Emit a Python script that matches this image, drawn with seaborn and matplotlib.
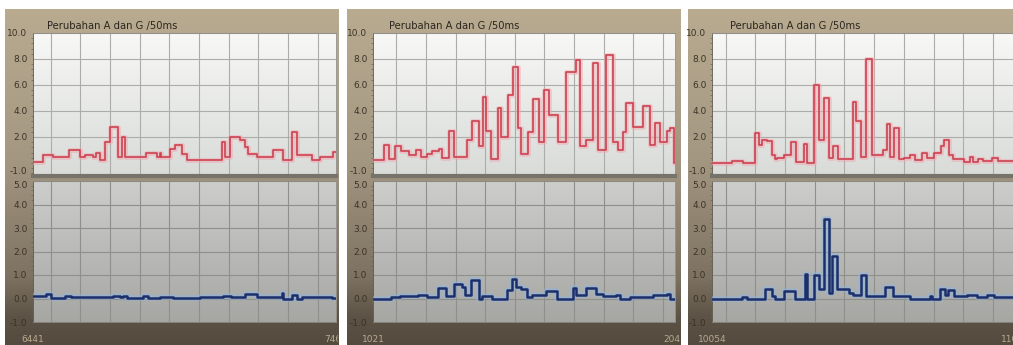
import numpy as np
import matplotlib
matplotlib.use("Agg")
import matplotlib.pyplot as plt
from matplotlib.colors import LinearSegmentedColormap
from matplotlib.ticker import MultipleLocator
import seaborn as sns

sns.set_style("white")
plt.rcParams['font.family'] = ['DejaVu Sans']

title = "Perubahan A dan G /50ms"
span = 1020
x_start = [6441, 1021, 10054]
x_start_labels = ["6441", "1021", "10054"]
x_end_labels = ["7461", "2041", "11074"]

# panel 1 (offsets from start, step values)
p1_top_t = [0, 34, 67, 121, 157, 174, 202, 213, 225, 242, 258, 286, 301, 311, 382, 416, 427, 432,
            461, 477, 500, 517, 635, 646, 663, 696, 713, 725, 753, 809, 843, 871, 888, 938, 966, 1011, 1020]
p1_top_v = [0.05, 0.6, 0.45, 1.0, 0.45, 0.65, 0.5, 0.75, 0.2, 1.6, 2.8, 0.45, 2.0, 0.45, 0.75, 0.5, 0.8, 0.45,
            1.1, 1.4, 0.7, 0.2, 1.6, 0.45, 2.0, 1.75, 1.2, 0.7, 0.45, 1.0, 0.2, 2.4, 0.6, 0.25, 0.45, 0.85, 0.85]
p1_bot_t = [0, 45, 62, 107, 129, 197, 270, 292, 303, 315, 371, 388, 427, 472, 562, 640, 668, 713, 753,
            837, 843, 871, 888, 904, 949, 1005, 1020]
p1_bot_v = [0.12, 0.2, 0.03, 0.12, 0.08, 0.05, 0.12, 0.05, 0.1, 0.02, 0.1, 0.02, 0.07, 0.03, 0.05, 0.1, 0.05, 0.18, 0.06,
            0.25, 0.0, 0.15, 0.0, 0.06, 0.08, 0.03, 0.03]

# panel 2
p2_top_t = [0, 36, 53, 74, 93, 121, 144, 161, 183, 200, 223, 234, 257, 274, 319, 336, 358, 370, 381, 398,
            421, 432, 455, 472, 489, 500, 522, 539, 562, 579, 596, 624, 652, 686, 698, 720, 743, 760, 788,
            809, 828, 845, 856, 879, 913, 935, 952, 969, 992, 1003, 1018, 1020]
p2_top_v = [0.25, 1.35, 0.3, 1.3, 0.9, 0.6, 1.0, 0.5, 0.7, 0.95, 1.1, 0.4, 2.5, 0.5, 1.8, 3.2, 1.3, 5.1, 2.5, 0.3,
            4.2, 2.0, 5.2, 7.4, 2.7, 0.7, 2.4, 4.9, 1.6, 5.6, 3.7, 1.6, 7.0, 7.9, 1.3, 1.8, 7.7, 1.0, 8.3,
            1.6, 1.0, 2.4, 4.6, 2.8, 4.4, 1.4, 3.1, 1.6, 2.5, 2.7, 0.0, 0.0]
p2_bot_t = [0, 40, 62, 91, 153, 181, 221, 246, 272, 300, 312, 332, 357, 368, 402, 453, 468, 482, 499, 521,
            538, 584, 623, 674, 686, 720, 754, 776, 822, 833, 867, 946, 992, 1003, 1020]
p2_bot_v = [0.0, -0.03, 0.05, 0.1, 0.15, 0.05, 0.45, 0.1, 0.6, 0.5, 0.15, 0.8, 0.0, 0.1, 0.0, 0.35, 0.85, 0.5, 0.4, 0.05,
            0.15, 0.3, 0.0, 0.45, 0.15, 0.45, 0.2, 0.1, 0.15, 0.0, 0.05, 0.15, 0.2, 0.0, 0.0]

# panel 3
p3_top_t = [0, 66, 106, 145, 157, 170, 185, 202, 211, 219, 242, 265, 282, 310, 321, 344, 361, 378, 395, 407,
            424, 475, 486, 503, 520, 537, 577, 588, 600, 611, 628, 645, 668, 685, 708, 725, 747, 770, 782,
            799, 810, 850, 867, 878, 895, 912, 941, 963, 1020]
p3_top_v = [0.0, 0.15, 0.0, 2.3, 1.4, 1.8, 1.7, 0.6, 0.3, 0.4, 0.6, 1.6, 0.1, 1.5, 0.0, 6.0, 1.8, 5.0, 0.4, 1.3,
            0.3, 4.7, 3.2, 0.5, 8.0, 0.6, 1.0, 3.0, 0.5, 2.7, 0.3, 0.4, 0.6, 0.2, 0.8, 0.4, 0.8, 1.3, 1.8,
            0.6, 0.3, 0.1, 0.5, 0.1, 0.3, 0.15, 0.35, 0.15, 0.15]
p3_bot_t = [0, 100, 117, 179, 201, 213, 241, 281, 312, 320, 343, 360, 377, 394, 405, 422, 462, 473, 501, 518,
            581, 609, 666, 734, 739, 768, 784, 796, 813, 858, 892, 926, 949, 1020]
p3_bot_v = [0.0, 0.05, 0.0, 0.4, 0.1, 0.0, 0.3, 0.0, 1.05, 0.0, 1.0, 0.4, 3.4, 0.25, 1.8, 0.4, 0.25, 0.15, 1.0, 0.1,
            0.5, 0.1, 0.0, 0.1, 0.0, 0.4, 0.15, 0.35, 0.1, 0.15, 0.05, 0.15, 0.05, 0.05]

panels = [
    (p1_top_t, p1_top_v, p1_bot_t, p1_bot_v),
    (p2_top_t, p2_top_v, p2_bot_t, p2_bot_v),
    (p3_top_t, p3_top_v, p3_bot_t, p3_bot_v),
]

W, H = 1013, 345
fig = plt.figure(figsize=(W / 100, H / 100), dpi=100)
fig.patch.set_facecolor("white")


def rect(l, t, r, b):
    return [l / W, 1 - b / H, (r - l) / W, (b - t) / H]


frame_cmap = LinearSegmentedColormap.from_list(
    "frame", [(0, "#b9ab90"), (0.45, "#a49782"), (0.8, "#7d7261"), (0.92, "#5c5245"), (1, "#544a3e")])
top_cmap = LinearSegmentedColormap.from_list("top", ["#f8f8f6", "#d8dbd8"])
bot_cmap = LinearSegmentedColormap.from_list("bot", ["#cdcecc", "#a6a7a3"])
grad = np.linspace(0, 1, 256).reshape(-1, 1)

frames = [(5, 338), (347, 680), (688, 1013)]
plots = [(33, 336), (373, 675), (712, 1015)]
label_col = "#3a3326"

for i, (tt, tv, bt, bv) in enumerate(panels):
    fl, fr = frames[i]
    pl, pr = plots[i]
    x0 = x_start[i]

    bg = fig.add_axes(rect(fl, 9, fr, 345), zorder=0)
    bg.imshow(grad, aspect="auto", cmap=frame_cmap, extent=[0, 1, 0, 1])
    bg.axis("off")
    fig.text((fl + 42) / W, 1 - 26 / H, title, fontsize=7.2, color="#2b271f", va="center", ha="left", zorder=5)

    ax_t = fig.add_axes(rect(pl, 33, pr, 176), zorder=2)
    ax_b = fig.add_axes(rect(pl, 181, pr, 322), zorder=2)

    for ax, cmap, t, v, ylim, col, glow, lw, gcol in [
        (ax_t, top_cmap, tt, tv, (-1, 10), "#cc4250", "#f0a8b0", 1.2, "#acadaa"),
        (ax_b, bot_cmap, bt, bv, (-1, 5), "#1d2f6b", "#8fb4de", 1.8, "#8f908c"),
    ]:
        ax.imshow(grad, aspect="auto", cmap=cmap, extent=[0, 1, 0, 1], transform=ax.transAxes, zorder=0)
        xs = [x0 + o for o in t]
        sns.lineplot(x=xs, y=v, ax=ax, drawstyle="steps-post", color=glow, lw=lw + 2.2, alpha=0.55,
                     estimator=None, sort=False, zorder=3)
        sns.lineplot(x=xs, y=v, ax=ax, drawstyle="steps-post", color=col, lw=lw,
                     estimator=None, sort=False, zorder=4)
        ax.set_xlim(x0, x0 + span)
        ax.set_ylim(*ylim)
        grid_x = np.arange((x0 // 100 + 1) * 100, x0 + span, 100)
        ax.set_xticks(grid_x, minor=True)
        ax.grid(which="minor", axis="x", color=gcol, lw=0.8)
        ax.grid(which="major", axis="y", color=gcol, lw=0.8)
        for s in ax.spines.values():
            s.set_color("#8c8c86")
            s.set_linewidth(0.6)
        ax.spines["left"].set_color("#5a5448")
        ax.tick_params(axis="y", which="major", direction="out", length=3, width=0.6, color="#5a5448",
                       labelsize=6.5, labelcolor=label_col, pad=1)
        ax.tick_params(axis="y", which="minor", direction="out", length=1.5, width=0.5, color="#6a6456", left=True)
        ax.tick_params(axis="x", which="minor", length=0)

    ax_t.set_yticks([-1, 2, 4, 6, 8, 10])
    ax_t.set_yticklabels(["-1.0", "2.0", "4.0", "6.0", "8.0", "10.0"])
    ax_t.yaxis.set_minor_locator(MultipleLocator(0.4))
    ax_t.set_xticks([])
    ax_t.spines["bottom"].set_color("#75736a")
    ax_t.spines["bottom"].set_linewidth(3)
    ax_t.get_yticklabels()[0].set_va("bottom")

    ax_b.set_yticks([-1, 0, 1, 2, 3, 4, 5])
    ax_b.set_yticklabels(["-1.0", "0.0", "1.0", "2.0", "3.0", "4.0", "5.0"])
    ax_b.yaxis.set_minor_locator(MultipleLocator(0.2))
    ax_b.get_yticklabels()[-1].set_va("top")
    ax_b.set_xticks([x0, x0 + span])
    ax_b.set_xticklabels([x_start_labels[i], x_end_labels[i]])
    ax_b.tick_params(axis="x", which="major", length=2, color="#cfc6b4", labelsize=6.5,
                     labelcolor="#b8ab92", pad=7)
    for lab in ax_b.get_xticklabels():
        lab.set_clip_on(True)
        lab.set_clip_box(bg.bbox)

fig.savefig("out.png", dpi=100, facecolor=fig.get_facecolor())
